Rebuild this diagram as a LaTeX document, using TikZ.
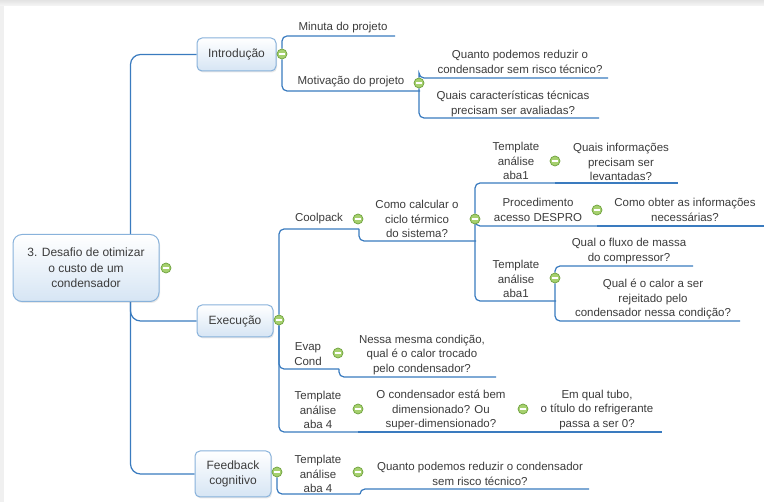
\documentclass[tikz,border=0pt]{standalone}
\usepackage{fontspec}
\setmainfont{Liberation Sans}
\usetikzlibrary{shadows}
\pgfdeclarelayer{fundo}
\pgfdeclarelayer{linhas}
\pgfsetlayers{fundo,linhas,main}
\definecolor{linhaazul}{HTML}{3A7BBF}
\definecolor{caixaborda}{HTML}{88B2DB}
\definecolor{caixafundo}{HTML}{D6E5F4}
\definecolor{marcaverde}{HTML}{A6D06E}
\definecolor{marcaborda}{HTML}{6FA23E}
\definecolor{texto}{HTML}{3C3C3C}
\begin{document}
\begin{tikzpicture}[
        x=1pt, y=-1pt,
        font=\fontsize{11.5}{14.5}\selectfont,
        % Estilos do mapa mental
        topico/.style={draw=caixaborda, line width=1pt, top color=white, bottom color=caixafundo, rounded corners=5pt, align=center, inner sep=0pt, text=texto, font=\fontsize{12}{15}\selectfont, drop shadow={shadow xshift=1pt, shadow yshift=-1.5pt, opacity=0.18}},
        central/.style={topico, rounded corners=9pt, font=\fontsize{12}{15.5}\selectfont},
        item/.style={align=center, inner sep=0pt, text=texto},
        marca/.style={circle, draw=marcaborda, fill=marcaverde, line width=0.7pt, minimum size=10pt, inner sep=0pt, path picture={\draw[white, line width=1.1pt] ([xshift=-2.6pt]path picture bounding box.center) -- ([xshift=2.6pt]path picture bounding box.center);}},
        ramo/.style={draw=linhaazul, line width=1.2pt, rounded corners=5pt},
        tronco/.style={ramo, rounded corners=10pt}
    ]
    \useasboundingbox (0,0) rectangle (764,502);

    % ==========================================
    % 0. MOLDURA
    % ==========================================
    \begin{pgfonlayer}{fundo}
        \fill[gray!12] (0,0) rectangle (764,502);
        \fill[white] (4,6) rectangle (764,502);
        \shade[top color=gray!22, bottom color=gray!7] (0,0) rectangle (764,6);
    \end{pgfonlayer}

    % ==========================================
    % 1. NOS
    % ==========================================

    % Tema central e topicos
    \node[central, minimum width=146pt, minimum height=67pt] (raiz) at (86,268) {3. Desafio de otimizar\\o custo de um\\condensador};
    \node[marca] (m-raiz) at (166,268) {};

    \node[topico, minimum width=79pt, minimum height=33pt] (intro) at (236.5,54.5) {Introdução};
    \node[marca] (m-intro) at (282,54) {};
    \node[topico, minimum width=76pt, minimum height=32pt] (exec) at (235,321) {Execução};
    \node[marca] (m-exec) at (279,320) {};
    \node[topico, minimum width=76pt, minimum height=46pt] (feed) at (233,474) {Feedback\\cognitivo};
    \node[marca] (m-feed) at (277,472) {};

    % Introducao
    \node[item] (minuta) at (343,28) {Minuta do projeto};
    \coordinate (minuta-fim) at (395,36);
    \node[item] (motiv) at (351,82) {Motivação do projeto};
    \coordinate (motiv-fim) at (420,91);
    \node[marca] (m-motiv) at (419,83) {};
    \node[item] (q-reduzir) at (520,62) {Quanto podemos reduzir o\\condensador sem risco técnico?};
    \coordinate (q-reduzir-fim) at (608,78);
    \node[item] (q-caract) at (513,104) {Quais características técnicas\\precisam ser avaliadas?};
    \coordinate (q-caract-fim) at (599,118);

    % Execucao - Coolpack
    \node[item] (coolpack) at (319,219) {Coolpack};
    \node[marca] (m-cool) at (358,219) {};
    \coordinate (coolpack-fim) at (359,229);
    \node[item] (ciclo) at (417,219) {Como calcular o\\ciclo térmico\\do sistema?};
    \node[marca] (m-ciclo) at (475,219) {};
    \coordinate (ciclo-fim) at (476,241);

    \node[item] (tpl-a) at (516,161) {Template\\análise\\aba1};
    \node[marca] (m-tpl-a) at (555,161) {};
    \coordinate (tpl-a-fim) at (555,183);
    \node[item] (q-info) at (621,162) {Quais informações\\precisam ser\\levantadas?};
    \coordinate (q-info-fim) at (678,183);

    \node[item] (proc) at (538,210) {Procedimento\\acesso DESPRO};
    \node[marca] (m-proc) at (597,210) {};
    \coordinate (proc-fim) at (597,226);
    \node[item] (q-obter) at (685,210) {Como obter as informações\\necessárias?};
    \coordinate (q-obter-fim) at (764,226);

    \node[item] (tpl-b) at (516,279) {Template\\análise\\aba1};
    \node[marca] (m-tpl-b) at (555,278) {};
    \coordinate (tpl-b-fim) at (556,301);
    \node[item] (q-fluxo) at (629,251) {Qual o fluxo de massa\\do compressor?};
    \coordinate (q-fluxo-fim) at (693,266);
    \node[item] (q-calor) at (653,299) {Qual é o calor a ser\\rejeitado pelo\\condensador nessa condição?};
    \coordinate (q-calor-fim) at (740,321);

    % Execucao - Evap / Cond
    \node[item] (evap) at (308,354) {Evap\\Cond};
    \node[marca] (m-evap) at (338,353) {};
    \coordinate (evap-fim) at (339,369);
    \node[item] (q-trocado) at (422,355) {Nessa mesma condição,\\qual é o calor trocado\\pelo condensador?};
    \coordinate (q-trocado-fim) at (496,377);

    % Execucao - aba 4
    \node[item] (tpl-c) at (318,410) {Template\\análise\\aba 4};
    \node[marca] (m-tpl-c) at (358,409) {};
    \coordinate (tpl-c-fim) at (358,432);
    \node[item] (q-dimens) at (441,410) {O condensador está bem\\dimensionado? Ou\\super-dimensionado?};
    \node[marca] (m-dimens) at (523,409) {};
    \coordinate (q-dimens-fim) at (523,432);
    \node[item] (q-tubo) at (597,410) {Em qual tubo,\\o título do refrigerante\\passa a ser 0?};
    \coordinate (q-tubo-fim) at (662,432);

    % Feedback
    \node[item] (tpl-d) at (318,474) {Template\\análise\\aba 4};
    \node[marca] (m-tpl-d) at (358,472) {};
    \coordinate (tpl-d-fim) at (360,494);
    \node[item] (q-final) at (480,474) {Quanto podemos reduzir o condensador\\sem risco técnico?};
    \coordinate (q-final-fim) at (589,489);

    % ==========================================
    % 2. LIGACOES
    % ==========================================
    \begin{pgfonlayer}{linhas}
        % tronco principal
        \draw[tronco] ([xshift=-29pt]raiz.north east) |- (intro.west);
        \draw[tronco] ([xshift=-29pt]raiz.south east) |- (exec.west);
        \draw[tronco] ([xshift=-29pt]raiz.south east) |- (feed.west);

        % Introducao
        \draw[ramo] (m-intro) |- (minuta-fim);
        \draw[ramo] (m-intro) |- (motiv-fim);
        \draw[ramo] (m-motiv) |- (q-reduzir-fim);
        \draw[ramo] (m-motiv) |- (q-caract-fim);

        % Execucao
        \draw[ramo] (m-exec) |- (coolpack-fim);
        \draw[ramo] (m-exec) |- (evap-fim);
        \draw[ramo] (m-exec) |- (tpl-c-fim);
        \draw[ramo] (coolpack-fim) |- (ciclo-fim);
        \draw[ramo] (m-ciclo) |- (tpl-a-fim);
        \draw[ramo] (m-ciclo) |- (proc-fim);
        \draw[ramo] (m-ciclo) |- (tpl-b-fim);
        \draw[ramo] (tpl-a-fim) -- (q-info-fim);
        \draw[ramo] (proc-fim) -- (q-obter-fim);
        \draw[ramo] (m-tpl-b) |- (q-fluxo-fim);
        \draw[ramo] (m-tpl-b) |- (q-calor-fim);
        \draw[ramo] (evap-fim) |- (q-trocado-fim);
        \draw[ramo] (tpl-c-fim) -- (q-dimens-fim);
        \draw[ramo] (q-dimens-fim) -- (q-tubo-fim);

        % Feedback
        \draw[ramo] (m-feed) |- (tpl-d-fim);
        \draw[ramo] (tpl-d-fim) |- (q-final-fim);
    \end{pgfonlayer}

\end{tikzpicture}
\end{document}
